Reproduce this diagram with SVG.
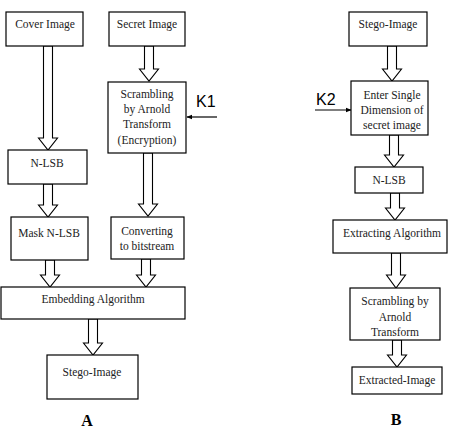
<svg xmlns="http://www.w3.org/2000/svg" width="453" height="432" viewBox="0 0 453 432">
<style>
.box{fill:#fff;stroke:#000;stroke-width:1.2}
.t{font-family:"Liberation Serif","Times New Roman",serif;font-size:11.5px;fill:#222;text-anchor:middle}
.k{font-family:"Liberation Sans",Arial,sans-serif;font-size:16px;fill:#000}
.lbl{font-family:"Liberation Serif","Times New Roman",serif;font-size:16px;font-weight:bold;fill:#000;text-anchor:middle}
.ba{fill:#fff;stroke:#000;stroke-width:1.1;stroke-linejoin:miter}
.ln{stroke:#000;stroke-width:1.2;fill:none}
</style>
<defs>
<marker id="ah" viewBox="0 0 10 10" refX="9" refY="5" markerWidth="6" markerHeight="6" orient="auto" markerUnits="userSpaceOnUse">
<path d="M0,1 L10,5 L0,9 Z" fill="#000"/>
</marker>
</defs>
<g id="connectors">
<path class="ba" d="M43.5,46 V138 H38.5 L48,150 L57.5,138 H52.5 V46 Z"/>
<path class="ba" d="M144.5,46 V69 H139.5 L149,81 L158.5,69 H153.5 V46 Z"/>
<path class="ba" d="M143.5,153 V204 H138.5 L148,216 L157.5,204 H152.5 V153 Z"/>
<path class="ba" d="M43.5,184 V205 H38.5 L48,217 L57.5,205 H52.5 V184 Z"/>
<path class="ba" d="M45.5,260 V275 H40.5 L50,287 L59.5,275 H54.5 V260 Z"/>
<path class="ba" d="M141.5,259 V275 H136.5 L146,287 L155.5,275 H150.5 V259 Z"/>
<path class="ba" d="M88.5,319 V343 H83.5 L93,355 L102.5,343 H97.5 V319 Z"/>
<path class="ba" d="M387.5,46 V69 H382.5 L392,81 L401.5,69 H396.5 V46 Z"/>
<path class="ba" d="M389.5,135 V155 H384.5 L394,167 L403.5,155 H398.5 V135 Z"/>
<path class="ba" d="M390.5,193 V208 H385.5 L395,220 L404.5,208 H399.5 V193 Z"/>
<path class="ba" d="M391.5,253 V275 H386.5 L396,288 L405.5,275 H400.5 V253 Z"/>
<path class="ba" d="M392.5,340 V355 H387.5 L397,367 L406.5,355 H401.5 V340 Z"/>
<line class="ln" x1="217" y1="117" x2="187" y2="117" marker-end="url(#ah)"/>
<line class="ln" x1="315" y1="110" x2="351" y2="110" marker-end="url(#ah)"/>
</g>
<g id="cover"><rect class="box" x="6" y="12" width="77" height="34"/><text class="t" x="45" y="28">Cover Image</text></g>
<g id="secret"><rect class="box" x="109" y="12" width="76" height="34"/><text class="t" x="147" y="28">Secret Image</text></g>
<g id="scrambling"><rect class="box" x="108" y="82" width="78" height="71"/>
<text class="t" x="147" y="98">Scrambling</text><text class="t" x="147" y="113">by Arnold</text><text class="t" x="147" y="128">Transform</text><text class="t" x="147" y="144">(Encryption)</text></g>
<g id="k1"><text class="k" x="196" y="107">K1</text></g>
<g id="nlsb"><rect class="box" x="8" y="150" width="79" height="34"/><text class="t" x="47" y="167">N-LSB</text></g>
<g id="mask"><rect class="box" x="11" y="217" width="77" height="43"/><text class="t" x="49" y="237">Mask N-LSB</text></g>
<g id="convert"><rect class="box" x="111" y="217" width="73" height="42"/><text class="t" x="147" y="235">Converting</text><text class="t" x="147" y="250">to bitstream</text></g>
<g id="embed"><rect class="box" x="1" y="287" width="184" height="32"/><text class="t" x="93" y="303">Embedding Algorithm</text></g>
<g id="stegoA"><rect class="box" x="47" y="355" width="91" height="44"/><text class="t" x="92" y="376">Stego-Image</text></g>
<text class="lbl" x="87" y="426">A</text>
<g id="stegoB"><rect class="box" x="349" y="12" width="78" height="34"/><text class="t" x="388" y="28">Stego-Image</text></g>
<g id="enter"><rect class="box" x="351" y="81" width="77" height="54"/>
<text class="t" x="392" y="99">Enter Single</text><text class="t" x="392" y="114">Dimension of</text><text class="t" x="392" y="129">secret image</text></g>
<g id="k2"><text class="k" x="316" y="105">K2</text></g>
<g id="nlsbB"><rect class="box" x="355" y="167" width="68" height="26"/><text class="t" x="389" y="184">N-LSB</text></g>
<g id="extracting"><rect class="box" x="333" y="220" width="114" height="33"/><text class="t" x="392" y="237">Extracting Algorithm</text></g>
<g id="scramblingB"><rect class="box" x="350" y="288" width="90" height="52"/>
<text class="t" x="395" y="305">Scrambling by</text><text class="t" x="395" y="321">Arnold</text><text class="t" x="395" y="336">Transform</text></g>
<g id="extracted"><rect class="box" x="352" y="367" width="90" height="27"/><text class="t" x="397" y="384">Extracted-Image</text></g>
<text class="lbl" x="396" y="425">B</text>
</svg>
